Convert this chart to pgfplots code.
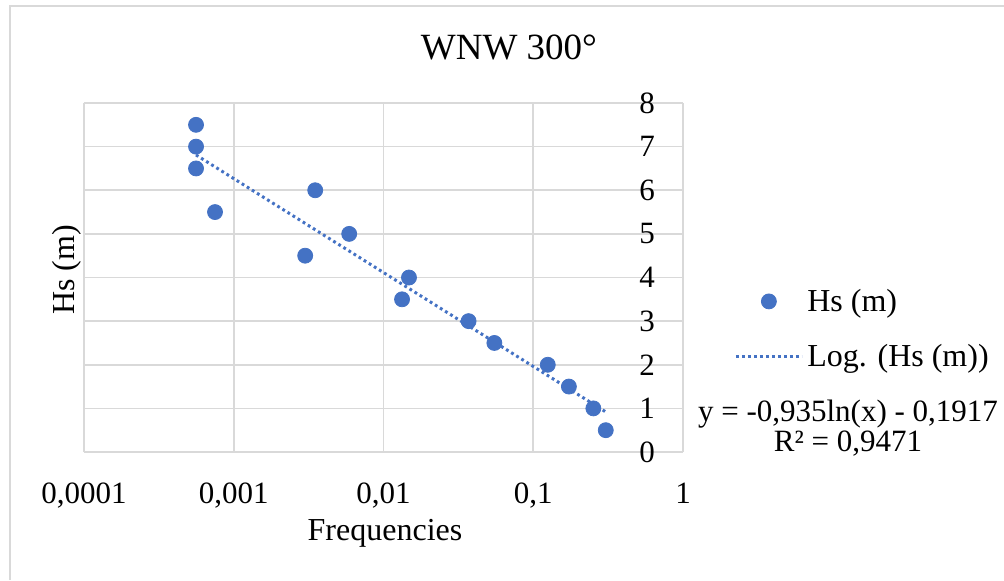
\documentclass[border=0pt]{standalone}
\usepackage{fontspec}
\setmainfont{Liberation Serif}
\usepackage{pgfplots}
\pgfplotsset{compat=1.18}
\definecolor{excelblue}{HTML}{4472C4}
\definecolor{gridgray}{HTML}{D9D9D9}
\begin{document}
\begin{tikzpicture}
\useasboundingbox (0,0) rectangle (502pt,290pt);
\draw[gridgray, line width=0.8pt] (5pt,0) -- (5pt,287pt) -- (502pt,287pt);
\begin{axis}[
  at={(42pt,64pt)}, anchor=south west,
  scale only axis, width=299.5pt, height=174.5pt,
  xmode=log, xmin=1e-4, xmax=1, ymin=0, ymax=8,
  xtick={1e-4,1e-3,1e-2,1e-1,1},
  xticklabels={{0,0001},{0,001},{0,01},{0,1},{1}},
  ytick={0,1,2,3,4,5,6,7,8},
  minor x tick num=0, minor y tick num=0,
  /pgf/number format/assume math mode=true,
  yticklabel pos=right,
  yticklabel style={anchor=center, xshift=-18pt, font=\fontsize{15.5}{18}\selectfont},
  xticklabel style={anchor=base, yshift=-25.5pt, font=\fontsize{15.5}{18}\selectfont},
  axis line style={draw=none},
  major tick length=0pt, minor tick length=0pt,
  tick style={draw=none},
  grid=major,
  major grid style={gridgray, line width=0.8pt},
  title={WNW 300°},
  title style={at={(axis description cs:0.7095,1.126)}, anchor=center, font=\fontsize{18.5}{22}\selectfont},
  xlabel={Frequencies},
  xlabel style={at={(axis description cs:0.5025,-0.232)}, anchor=center, font=\fontsize{16}{19}\selectfont},
  ylabel={Hs (m)},
  ylabel style={at={(axis description cs:-0.0284,0.5215)}, anchor=center, font=\fontsize{16}{19}\selectfont},
  legend style={draw=none, fill=none, at={(axis description cs:1.0851,0.3524)}, anchor=west,
    inner sep=0pt, row sep=11pt, font=\fontsize{16}{19}\selectfont, cells={anchor=west}},
  legend image code/.code={\draw[mark repeat=2,mark phase=2] plot coordinates {(0pt,0pt) (16.5pt,0pt) (33pt,0pt)};},
  clip=false,
]
\addplot[only marks, mark=*, mark size=3.75pt, excelblue, mark options={fill=excelblue, draw=excelblue}] coordinates {
  (0.00056,7.5) (0.00056,7.0) (0.00056,6.5) (0.00075,5.5)
  (0.0035,6.0) (0.0030,4.5) (0.0059,5.0) (0.0148,4.0)
  (0.0133,3.5) (0.037,3.0) (0.055,2.5) (0.125,2.0)
  (0.173,1.5) (0.252,1.0) (0.305,0.5)
};
\addlegendentry{Hs (m)}
\addplot[excelblue, line width=1.5pt, line cap=butt, dash pattern=on 1.4pt off 1.6pt] coordinates {
  (0.00056,6.809) (0.305,0.919)
};
\addlegendentry{Log. (Hs (m))}
\node[align=center, font=\fontsize{15.5}{15}\selectfont] at (axis description cs:1.2755,0.0688)
  {y = -0,935ln(x) - 0,1917\\R² = 0,9471};
\end{axis}
\end{tikzpicture}
\end{document}
